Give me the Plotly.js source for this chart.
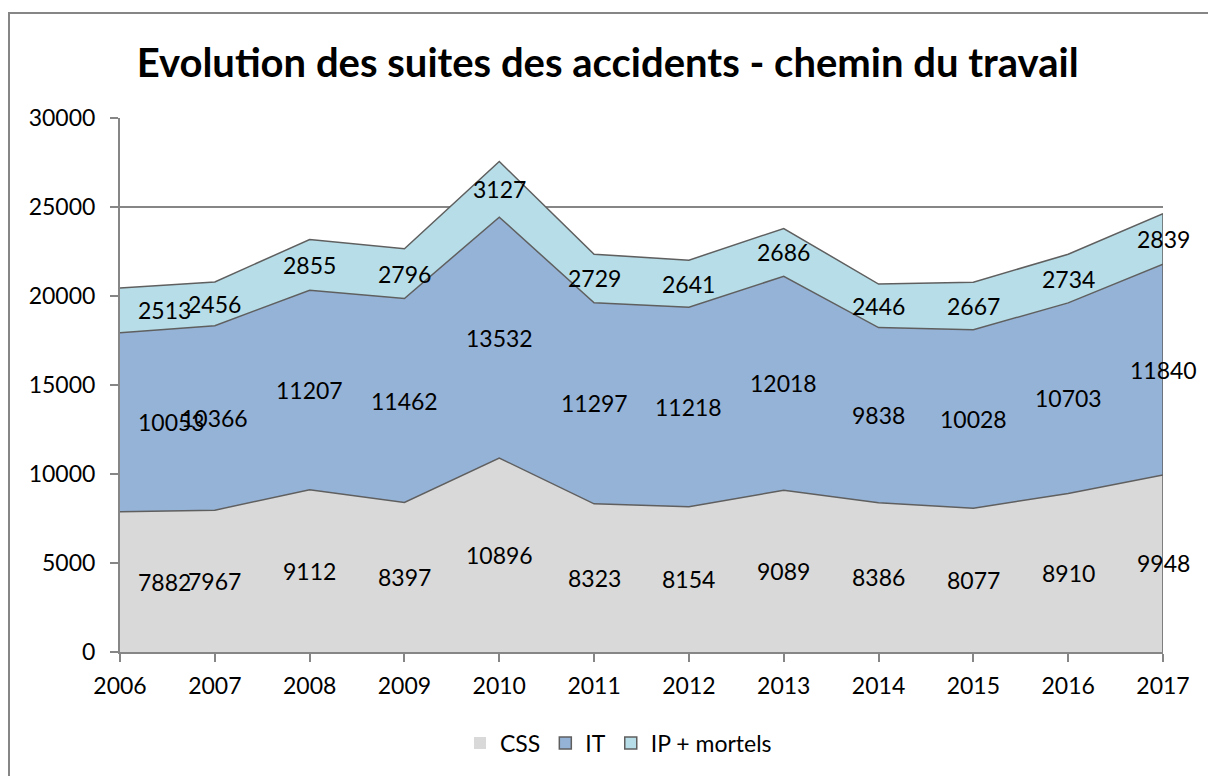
<!DOCTYPE html>
<html><head><meta charset="utf-8">
<script src="https://cdn.plot.ly/plotly-3.0.1.min.js"></script>
<style>
html,body{margin:0;padding:0;background:#fff;overflow:hidden}
#chart{position:absolute;left:0;top:0;width:1208px;height:776px}
#frame{position:absolute;left:8px;top:12px;width:1300px;height:900px;border:2px solid #868686;pointer-events:none}
</style></head><body>
<div id="chart"></div><div id="frame"></div>
<script>
const years = [2006, 2007, 2008, 2009, 2010, 2011, 2012, 2013, 2014, 2015, 2016, 2017];
const css = [7882, 7967, 9112, 8397, 10896, 8323, 8154, 9089, 8386, 8077, 8910, 9948];
const it = [10053, 10366, 11207, 11462, 13532, 11297, 11218, 12018, 9838, 10028, 10703, 11840];
const ip = [2513, 2456, 2855, 2796, 3127, 2729, 2641, 2686, 2446, 2667, 2734, 2839];
const seriesNames = ['CSS', 'IT', 'IP + mortels'];
const seriesColors = ['#D9D9D9', '#95B3D7', '#B7DEE8'];
const yTicks = [0, 5000, 10000, 15000, 20000, 25000, 30000];
const titleText = 'Evolution des suites des accidents - chemin du travail';

const FONT = 'Lato, Calibri, Carlito, sans-serif';
const EDGE = '#5F5F5F';
const GRID = '#868686';
const series = [css, it, ip];

const traces = series.map((vals, i) => ({
  type: 'scatter', x: years, y: vals, name: seriesNames[i],
  stackgroup: 'one', mode: 'lines',
  line: {color: EDGE, width: 1.5},
  fillcolor: seriesColors[i],
  showlegend: false, hoverinfo: 'skip'
}));

const n = years.length;
const totals = years.map((_, k) => series.reduce((s, arr) => s + arr[k], 0));
traces.push({
  type: 'scatter', x: [years[n-1], years[n-1]], y: [0, totals[n-1]],
  mode: 'lines', line: {color: EDGE, width: 1.5}, showlegend: false, hoverinfo: 'skip'
});

// legend entries with square swatches
seriesNames.forEach((name, i) => {
  traces.push({
    type: 'bar', x: [null], y: [null], name: name, showlegend: true,
    marker: {color: seriesColors[i], line: {color: i === 0 ? seriesColors[i] : EDGE, width: i === 0 ? 0 : 1.5}},
    hoverinfo: 'skip'
  });
});

const annotations = [];
series.forEach((vals, i) => {
  vals.forEach((v, k) => {
    let base = 0;
    for (let j = 0; j < i; j++) base += series[j][k];
    annotations.push({
      x: years[k], y: base + v / 2, xref: 'x', yref: 'y',
      text: String(v), showarrow: false,
      xanchor: k === 0 ? 'left' : 'center', xshift: k === 0 ? 16 : 0,
      yanchor: 'middle',
      font: {family: FONT, size: 23, color: '#000'}
    });
  });
});

const layout = {
  width: 1208, height: 776,
  paper_bgcolor: '#fff', plot_bgcolor: 'rgba(0,0,0,0)',
  margin: {l: 120, r: 45, t: 118, b: 124},
  title: {text: '<b>' + titleText + '</b>', x: 0.503, xref: 'container', xanchor: 'center',
          y: 1 - 63/776, yref: 'container', yanchor: 'middle',
          font: {family: FONT, size: 40, color: '#000'}},
  xaxis: {type: 'linear', range: [years[0], years[n-1]], tickvals: years, ticktext: years.map(String),
          ticks: 'outside', ticklen: 8, tickwidth: 2, tickcolor: GRID,
          showline: true, linecolor: GRID, linewidth: 2, showgrid: false, zeroline: false,
          tickfont: {family: FONT, size: 23, color: '#000'}, ticklabelstandoff: 4},
  yaxis: {range: [0, 30000], tickvals: yTicks, ticktext: yTicks.map(String),
          ticks: 'outside', ticklen: 8, tickwidth: 2, tickcolor: GRID,
          showline: true, linecolor: GRID, linewidth: 2,
          showgrid: true, gridcolor: GRID, gridwidth: 2, zeroline: false,
          tickfont: {family: FONT, size: 23, color: '#000'}, ticklabelstandoff: 10},
  legend: {orientation: 'h', xref: 'container', yref: 'container', x: 0.512, xanchor: 'center',
           y: 1 - 743/776, yanchor: 'middle', traceorder: 'normal',
           font: {family: FONT, size: 23, color: '#000'}, itemwidth: 30},
  annotations: annotations,
  showlegend: true
};

Plotly.newPlot('chart', traces, layout, {displayModeBar: false, staticPlot: true});
</script>
</body></html>
